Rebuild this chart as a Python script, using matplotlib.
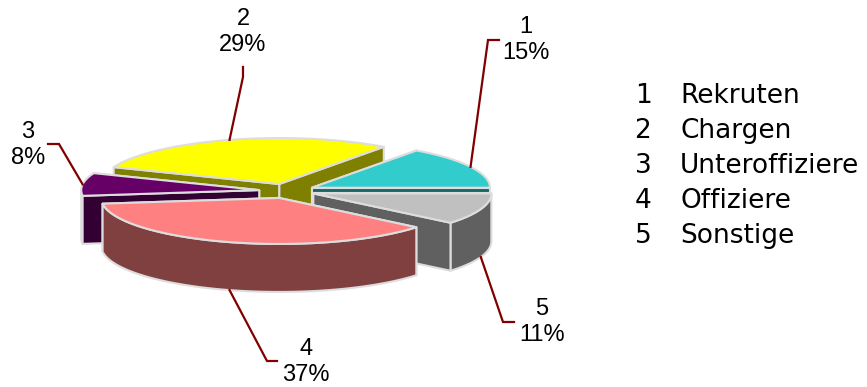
import matplotlib.pyplot as plt
import numpy as np
from matplotlib.patches import Polygon

# data
categories = ["1", "2", "3", "4", "5"]
names = ["Rekruten", "Chargen", "Unteroffiziere", "Offiziere", "Sonstige"]
shares = [15, 29, 8, 37, 11]

top_colors = ["#33CCCC", "#FFFF00", "#660066", "#FF8080", "#C0C0C0"]
side_colors = ["#1B6666", "#808000", "#330033", "#804040", "#606060"]

# label layout (block centre, leader elbow, leader end)
label_pos = [(526, 40), (243, 32), (28, 145), (306, 362), (542, 322)]
leader_elbow = [(488, 40), (243, 77), (59, 144), (267, 361), (503, 322)]
leader_end = [(499, 40), (243, 67), (48, 144), (277, 361), (514, 322)]

W, H = 867, 387
fig = plt.figure(figsize=(W / 100, H / 100), dpi=100)
ax = fig.add_axes([0, 0, 1, 1])
ax.set_xlim(0, W)
ax.set_ylim(H, 0)
ax.axis("off")

# pie geometry in pixels
cx, cy = 287, 191
rx, ry = 178, 46
depth = 48
explode = 28
edge = "#DDDDDD"


def rim(x0, y0, ang):
    t = np.radians(ang)
    return x0 + rx * np.cos(t), y0 - ry * np.sin(t)


def face(pts, color, z):
    ax.add_patch(Polygon(pts, closed=True, facecolor=color, edgecolor=edge,
                         linewidth=1.5, joinstyle="round", zorder=z))


fracs = np.array(shares) / sum(shares)
ends = np.cumsum(fracs) * 360
starts = ends - fracs * 360
mids = (starts + ends) / 2

# back slices first
order = np.argsort(-np.sin(np.radians(mids)))
for k, i in enumerate(order):
    a, b, m = starts[i], ends[i], mids[i]
    vx = cx + explode * np.cos(np.radians(m))
    vy = cy - explode * (ry / rx) * np.sin(np.radians(m))
    z = 2 + k * 5

    walls = []
    for ang, vis in ((a, np.cos(np.radians(a)) > 1e-9), (b, np.cos(np.radians(b)) < -1e-9)):
        px, py = rim(vx, vy, ang)
        walls.append((vis, [(vx, vy), (px, py), (px, py + depth), (vx, vy + depth)]))

    for vis, pts in walls:
        if not vis:
            face(pts, side_colors[i], z)

    lo, hi = max(a, 180), min(b, 360)
    if lo < hi:
        ts = np.linspace(lo, hi, 60)
        xs, ys = rim(vx, vy, ts)
        pts = list(zip(xs, ys)) + list(zip(xs[::-1], ys[::-1] + depth))
        face(pts, side_colors[i], z + 1)

    for vis, pts in walls:
        if vis:
            face(pts, side_colors[i], z + 2)

    ts = np.linspace(a, b, 80)
    xs, ys = rim(vx, vy, ts)
    face([(vx, vy)] + list(zip(xs, ys)), top_colors[i], z + 3)

    # leader line
    sx, sy = rim(vx, vy, m)
    if np.sin(np.radians(m)) < 0:
        sy += depth
    ex, ey = leader_elbow[i]
    fx, fy = leader_end[i]
    ax.plot([sx, ex, fx], [sy, ey, fy], color="#800000", linewidth=1.6,
            solid_joinstyle="miter", zorder=50)
    lx, ly = label_pos[i]
    ax.text(lx, ly, f"{categories[i]}\n{shares[i]}%", ha="center", va="center",
            fontsize=17, family="Liberation Sans", linespacing=1.25, zorder=60)

# legend
for j, (c, n) in enumerate(zip(categories, names)):
    y = 103 + j * 35
    ax.text(643, y, c, ha="center", va="baseline", fontsize=19, family="DejaVu Sans")
    ax.text(680, y, n, ha="left", va="baseline", fontsize=19, family="DejaVu Sans")

fig.savefig("out.png", dpi=100)
